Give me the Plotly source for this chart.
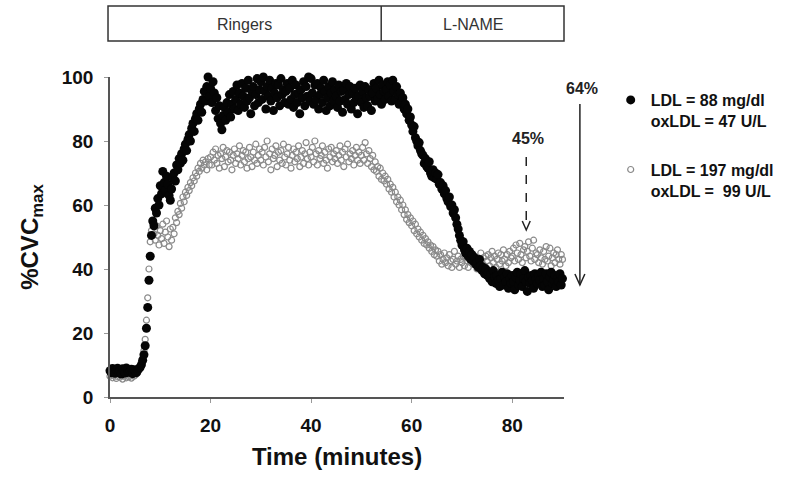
import plotly.graph_objects as go

# ---------------- data ----------------
sample_step_min = 0.25  # one sample every 15 s

ldl_low_cvc = [
    # 0 - 4.75 min
    8.2, 7.6, 8.9, 8.1, 7.4, 8.6, 9.0, 7.9, 8.3, 7.2, 8.8, 8.0, 7.5, 9.1, 8.4, 7.7, 8.2, 8.7, 7.3, 8.5,
    # 5 - 9.75
    8.1, 7.6, 8.4, 8.9, 9.3, 10.1, 11.5, 13.2, 16.0, 21.5, 28.0, 36.5, 44.0, 50.5, 55.0, 53.5, 59.0, 57.5, 62.0, 60.0,
    # 10 - 14.75
    66.0, 63.5, 70.5, 67.0, 64.5, 69.0, 66.5, 63.0, 61.5, 65.0, 68.5, 70.0, 67.5, 72.5, 71.0, 74.5, 73.0, 76.0, 74.0, 77.5,
    # 15 - 19.75
    79.0, 77.0, 80.5, 82.0, 80.0, 84.0, 85.5, 83.0, 87.0, 88.5, 86.5, 90.0, 91.5, 89.0, 93.0, 95.5, 92.5, 97.0, 100.0, 94.0,
    # 20 - 24.75
    96.5, 92.0, 98.5, 95.0, 89.5, 93.5, 87.0, 91.0, 85.5, 83.5, 88.0, 90.5, 86.5, 92.0, 89.0, 94.5, 87.5, 91.5, 95.5, 90.0,
    # 25 - 29.75
    93.0, 97.5, 89.5, 95.0, 91.5, 98.0, 94.0, 90.5, 96.5, 92.5, 99.0, 93.5, 88.5, 95.5, 97.0, 91.0, 94.5, 99.5, 92.0, 96.0,
    # 30 - 34.75
    98.5, 93.0, 100.0, 95.5, 90.0, 97.0, 94.0, 99.0, 92.5, 96.5, 89.5, 95.0, 98.0, 93.5, 97.5, 91.0, 99.5, 94.5, 96.0, 92.0,
    # 35 - 39.75
    95.5, 98.0, 91.5, 96.5, 93.0, 99.0, 90.5, 94.5, 97.5, 92.0, 95.0, 88.5, 96.0, 93.5, 98.5, 91.0, 97.0, 94.0, 100.0, 92.5,
    # 40 - 44.75
    99.5, 95.0, 91.5, 97.5, 93.0, 98.0, 90.0, 94.5, 96.5, 92.0, 99.0, 95.5, 89.5, 93.5, 97.0, 91.0, 95.0, 98.5, 92.5, 96.0,
    # 45 - 49.75
    94.0, 90.5, 97.5, 92.5, 95.5, 89.0, 96.0, 93.0, 98.0, 91.5, 94.5, 97.0, 90.0, 95.0, 92.0, 96.5, 93.5, 88.5, 94.0, 97.5,
    # 50 - 54.75
    92.0, 95.5, 90.5, 97.0, 93.5, 91.0, 96.0, 94.0, 89.5, 95.0, 98.0, 92.5, 96.5, 93.0, 99.0, 94.5, 91.5, 97.5, 95.5, 93.0,
    # 55 - 59.75
    96.0, 98.5, 94.0, 97.5, 92.5, 99.0, 95.5, 93.0, 97.0, 94.5, 91.5, 95.0, 92.0, 93.5, 90.0, 91.5, 88.5, 90.0, 86.5, 87.5,
    # 60 - 64.75
    85.0, 83.0, 84.5, 81.0, 80.0, 78.5, 79.5, 77.0, 76.0, 75.5, 73.0, 74.5, 72.0, 71.5, 73.5, 70.0, 69.0, 71.0, 68.5, 70.0,
    # 65 - 69.75
    68.0, 69.5, 66.5, 67.0, 65.0, 66.0, 63.5, 64.5, 62.0, 61.0, 62.5, 59.5, 60.0, 57.5, 58.5, 56.0, 54.0, 52.5, 50.5, 49.0,
    # 70 - 74.75
    47.5, 48.5, 46.0, 45.0, 46.5, 44.0, 45.5, 43.0, 44.5, 42.5, 43.5, 41.5, 42.0, 40.5, 43.0, 41.0, 39.5, 40.5, 38.5, 40.0,
    # 75 - 79.75
    38.0, 39.0, 37.0, 38.5, 36.0, 39.5, 37.5, 35.5, 38.0, 36.5, 34.5, 37.0, 39.0, 35.0, 37.5, 36.0, 38.5, 34.0, 37.0, 35.5,
    # 80 - 84.75
    38.0, 36.0, 33.5, 37.5, 39.0, 35.0, 36.5, 38.5, 34.5, 37.0, 39.5, 36.0, 33.0, 37.5, 35.5, 38.0, 36.5, 34.0, 38.5, 37.0,
    # 85 - 90
    35.5, 38.0, 36.5, 39.0, 34.5, 37.0, 35.0, 38.5, 36.0, 33.5, 37.5, 39.0, 35.5, 36.5, 38.0, 34.5, 37.0, 36.0, 38.5, 35.0, 37.0,
]

ldl_high_cvc = [
    # 0 - 4.75 min
    6.5, 7.0, 6.0, 6.8, 7.2, 5.8, 6.4, 7.5, 6.2, 6.9, 5.6, 7.1, 6.6, 6.0, 7.3, 6.3, 6.8, 5.9, 7.0, 6.5,
    # 5 - 9.75
    6.8, 7.2, 7.6, 8.3, 9.0, 10.5, 12.0, 14.5, 18.0, 24.0, 31.0, 40.0, 48.5, 52.0, 54.5, 51.0, 49.0, 53.5, 50.5, 47.5,
    # 10 - 14.75
    52.0, 49.5, 54.0, 48.0, 51.5, 55.0, 50.0, 47.0, 52.5, 49.0, 53.0, 51.0, 56.0, 54.5, 58.0, 57.0, 60.5, 59.0, 62.5, 61.0,
    # 15 - 19.75
    64.0, 63.0, 65.5, 64.5, 67.0, 66.0, 68.5, 67.5, 70.0, 69.0, 71.5, 70.5, 73.0, 71.5, 74.0, 72.5, 73.5, 71.0, 74.5, 72.5,
    # 20 - 24.75
    75.0, 72.5, 76.5, 74.0, 77.5, 73.0, 75.5, 71.5, 76.0, 74.5, 78.0, 72.0, 75.0, 77.0, 73.5, 76.5, 74.0, 71.0, 75.5, 77.5,
    # 25 - 29.75
    73.0, 76.0, 74.5, 78.5, 72.5, 75.5, 77.0, 73.5, 76.5, 71.5, 74.5, 78.0, 75.0, 72.0, 76.5, 74.0, 79.0, 73.0, 75.5, 77.5,
    # 30 - 34.75
    74.0, 76.5, 72.5, 78.0, 75.0, 80.0, 73.5, 76.0, 71.0, 77.5, 74.5, 75.5, 78.5, 72.0, 76.5, 74.0, 77.0, 73.0, 79.0, 75.0,
    # 35 - 39.75
    72.5, 76.0, 78.0, 74.0, 71.5, 75.5, 77.5, 73.5, 76.5, 74.5, 78.5, 72.0, 75.0, 77.0, 73.0, 76.0, 79.5, 74.5, 72.5, 76.5,
    # 40 - 44.75
    75.0, 78.0, 73.5, 80.0, 76.0, 72.5, 77.0, 74.5, 75.5, 78.5, 73.0, 76.5, 74.0, 71.5, 77.5, 75.0, 78.0, 73.5, 76.0, 74.5,
    # 45 - 49.75
    77.0, 73.0, 75.5, 78.5, 74.0, 76.5, 72.0, 77.5, 75.0, 79.0, 73.5, 76.0, 74.5, 77.0, 72.5, 75.5, 78.0, 74.0, 76.5, 73.0,
    # 50 - 54.75
    75.5, 78.0, 74.0, 79.5, 76.0, 73.0, 77.0, 74.5, 72.0, 75.5, 71.0, 73.5, 70.5, 72.0, 69.0, 71.5, 68.0, 70.0, 67.5, 69.0,
    # 55 - 59.75
    66.5, 68.0, 65.0, 66.5, 64.0, 65.5, 62.5, 64.0, 61.0, 62.5, 60.0, 61.5, 58.5, 60.0, 57.0, 58.5, 55.5, 57.0, 54.5, 56.0,
    # 60 - 64.75
    53.5, 55.0, 52.0, 54.0, 51.0, 52.5, 50.0, 51.5, 49.0, 50.5, 48.0, 49.5, 47.5, 48.5, 46.5, 47.5, 45.5, 47.0, 44.5, 46.0,
    # 65 - 69.75
    44.0, 45.5, 42.5, 44.5, 41.5, 43.0, 45.0, 42.0, 43.5, 41.0, 44.5, 42.5, 40.5, 43.0, 45.5, 41.5, 42.5, 44.0, 40.5, 43.0,
    # 70 - 74.75
    42.0, 44.0, 41.0, 43.5, 42.5, 40.5, 44.5, 42.0, 43.0, 41.5, 44.0, 42.5, 40.0, 43.5, 41.5, 45.0, 42.0, 43.5, 41.0, 44.0,
    # 75 - 79.75
    42.5, 44.5, 41.0, 43.5, 45.5, 42.0, 44.0, 40.5, 43.0, 45.0, 41.5, 44.5, 42.5, 46.0, 43.0, 41.0, 44.5, 42.0, 45.5, 43.5,
    # 80 - 84.75
    44.0, 46.5, 42.5, 47.5, 45.0, 43.0, 48.0, 44.5, 42.0, 46.0, 47.0, 43.5, 45.5, 48.5, 44.0, 42.5, 46.5, 49.0, 43.0, 45.0,
    # 85 - 90
    44.5, 42.0, 46.0, 43.5, 41.5, 45.5, 43.0, 47.0, 42.5, 44.0, 46.5, 41.0, 43.5, 45.0, 42.0, 44.5, 46.0, 43.0, 41.5, 44.5, 43.0,
]

time_low = [round(i * sample_step_min, 2) for i in range(len(ldl_low_cvc))]
time_high = [round(i * sample_step_min, 2) for i in range(len(ldl_high_cvc))]

series_names = ["LDL = 88 mg/dl<br>oxLDL = 47 U/L", "LDL = 197 mg/dl<br>oxLDL =  99 U/L"]
x_ticks = [0, 20, 40, 60, 80]
y_ticks = [0, 20, 40, 60, 80, 100]
phase_labels = ["Ringers", "L-NAME"]
drop_labels = ["64%", "45%"]

FONT = "Liberation Sans, Arial, sans-serif"

fig = go.Figure()

fig.add_trace(go.Scatter(
    x=time_high, y=ldl_high_cvc, mode="markers", name=series_names[1],
    legendgroup="b", legendrank=2, cliponaxis=False,
    marker=dict(symbol="circle-open", size=6, color="#8a8a8a", line=dict(width=1.2)),
))
fig.add_trace(go.Scatter(
    x=time_low, y=ldl_low_cvc, mode="markers", name=series_names[0],
    legendgroup="a", legendrank=1, cliponaxis=False,
    marker=dict(symbol="circle", size=9, color="#050505"),
))

# plot area in pixels: left 110, right 567, top 77, bottom 397
L, R, T, B = 110, 567, 77, 397
W, H = R - L, B - T


def px(xp):
    return (xp - L) / W


def py(yp):
    return (B - yp) / H


shapes = []
# top phase box
line_style = dict(color="#333333", width=1.5)
shapes.append(dict(type="rect", xref="paper", yref="paper", x0=px(108), x1=px(567),
                   y0=py(41), y1=py(6), line=line_style, fillcolor="rgba(0,0,0,0)"))
shapes.append(dict(type="line", xref="paper", yref="paper", x0=px(383), x1=px(383),
                   y0=py(41), y1=py(6), line=line_style))

# solid arrow (64%)
ax_x = px(583)
shapes.append(dict(type="line", xref="paper", yref="paper", x0=ax_x, x1=ax_x,
                   y0=py(104), y1=py(285), line=dict(color="#222222", width=1.5)))
shapes.append(dict(type="path", xref="paper", yref="paper",
                   path=f"M {px(578)} {py(274)} L {ax_x} {py(285)} L {px(588)} {py(274)}",
                   line=dict(color="#222222", width=1.5)))
# dashed arrow (45%)
dx = px(529)
shapes.append(dict(type="line", xref="paper", yref="paper", x0=dx, x1=dx,
                   y0=py(157), y1=py(229), line=dict(color="#222222", width=1.5, dash="dash")))
shapes.append(dict(type="path", xref="paper", yref="paper",
                   path=f"M {px(525)} {py(221)} L {dx} {py(230)} L {px(533)} {py(221)}",
                   line=dict(color="#222222", width=1.5)))


def label(text, xp, yp, size, bold):
    f = dict(family=FONT, size=size, color="#222222" if bold else "#333333")
    if bold:
        f["weight"] = "bold"
    return dict(text=text, xref="paper", yref="paper", x=px(xp), y=py(yp),
                xanchor="center", yanchor="middle", showarrow=False, font=f)


annotations = [
    label(phase_labels[0], 245, 24, 16, False),
    label(phase_labels[1], 475, 24, 16, False),
    label(drop_labels[0], 585, 88, 16, True),
    label(drop_labels[1], 531, 138, 16, True),
]

fig.update_layout(
    template="none",
    width=791, height=480,
    margin=dict(l=L, r=791 - R, t=T, b=480 - B),
    paper_bgcolor="white", plot_bgcolor="white",
    font=dict(family=FONT, color="#111111"),
    showlegend=True,
    legend=dict(
        x=px(614), y=py(83), xanchor="left", yanchor="top",
        valign="top", tracegroupgap=25, bgcolor="rgba(0,0,0,0)",
        font=dict(family=FONT, size=16, color="#111111", weight="bold"),
    ),
    shapes=shapes,
    annotations=annotations,
)

fig.update_xaxes(
    range=[0, 90.3], tickvals=x_ticks, showgrid=False, zeroline=False,
    showline=True, linecolor="#555555", linewidth=1.5,
    ticks="outside", ticklen=4, tickcolor="#999999", ticklabelstandoff=6,
    tickfont=dict(family=FONT, size=19, color="#111111", weight="bold"),
    title=dict(text="Time (minutes)", standoff=14,
               font=dict(family=FONT, size=24, color="#111111", weight="bold")),
    automargin=False,
)
fig.update_yaxes(
    range=[0, 100], tickvals=y_ticks, showgrid=False, zeroline=False,
    showline=True, linecolor="#555555", linewidth=1.5,
    ticks="outside", ticklen=4, tickcolor="#999999", ticklabelstandoff=7,
    tickfont=dict(family=FONT, size=19, color="#111111", weight="bold"),
    title=dict(text="%CVC<sub>max</sub>", standoff=16,
               font=dict(family=FONT, size=24, color="#111111", weight="bold")),
    automargin=False,
)

fig.write_html("out.html", config={"displayModeBar": False},
               post_script="document.body.style.margin='0';")
